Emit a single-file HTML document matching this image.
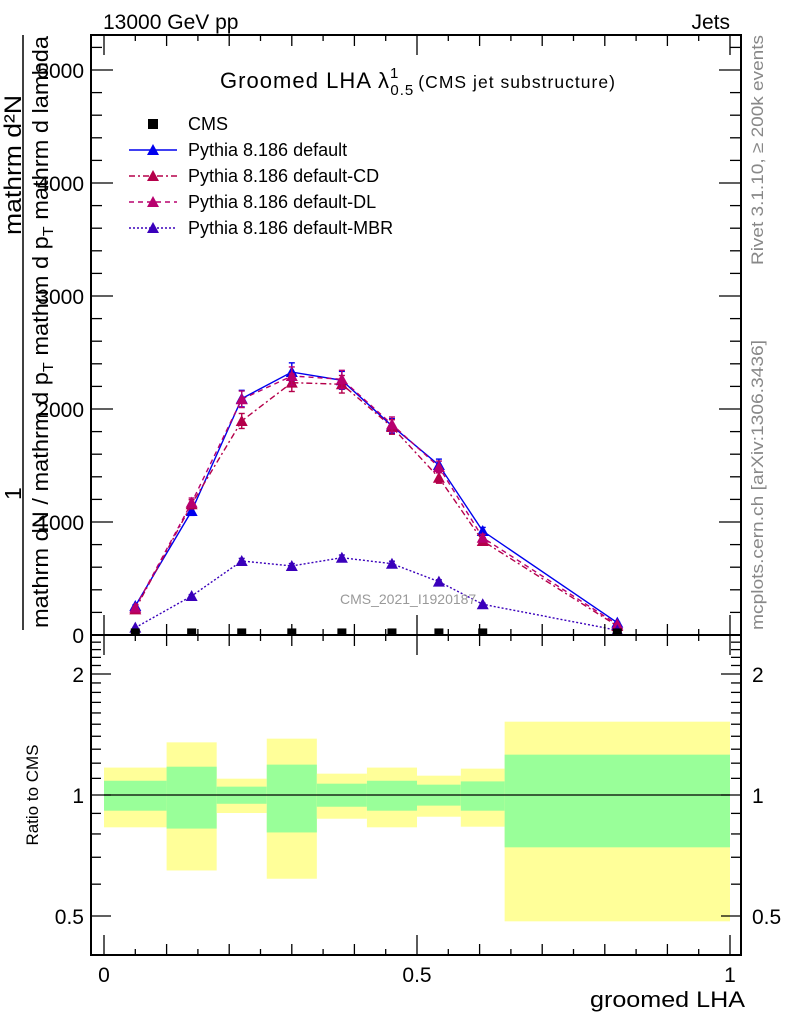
<!DOCTYPE html>
<html><head><meta charset="utf-8"><style>
body{margin:0;background:#fff;}
svg{display:block;font-family:"Liberation Sans",sans-serif;}
</style></head><body>
<svg id="chart" width="786" height="1024" viewBox="0 0 786 1024" xmlns="http://www.w3.org/2000/svg">
<g id="bands"></g>
<g id="marks"></g>
<g id="axes"></g>
<text x="103" y="29" font-size="21">13000 GeV pp</text>
<text x="730" y="29" font-size="21" text-anchor="end">Jets</text>
<text x="220" y="88" font-size="22" textLength="395" lengthAdjust="spacing">Groomed LHA λ<tspan font-size="15" dy="-10">1</tspan><tspan font-size="15" dx="-9" dy="17">0.5</tspan><tspan font-size="17.5" dx="4" dy="-7">(CMS jet substructure)</tspan></text>
<text x="340" y="604" font-size="14" fill="#999">CMS_2021_I1920187</text>
<text transform="translate(763,265) rotate(-90)" font-size="17" fill="#888" textLength="230" lengthAdjust="spacingAndGlyphs">Rivet 3.1.10, ≥ 200k events</text>
<text transform="translate(763,630) rotate(-90)" font-size="17" fill="#888" textLength="290" lengthAdjust="spacingAndGlyphs">mcplots.cern.ch [arXiv:1306.3436]</text>
<line x1="23" y1="35" x2="23" y2="630" stroke="#000" stroke-width="1.5"/>
<text transform="translate(21,235) rotate(-90)" font-size="24" textLength="140" lengthAdjust="spacingAndGlyphs">mathrm d²N</text>
<text transform="translate(21,500) rotate(-90)" font-size="23">1</text>
<text transform="translate(48,628) rotate(-90)" font-size="22" textLength="592" lengthAdjust="spacingAndGlyphs">mathrm dN / mathrm d p<tspan font-size="15" dy="5">T</tspan><tspan dy="-5"> mathrm d p</tspan><tspan font-size="15" dy="5">T</tspan><tspan dy="-5"> mathrm d lambda</tspan></text>
<text transform="translate(38,795) rotate(-90)" font-size="17" text-anchor="middle">Ratio to CMS</text>
<text x="745" y="1007" font-size="22" text-anchor="end" textLength="155" lengthAdjust="spacingAndGlyphs">groomed LHA</text>
<g id="legend"></g>
</svg>
<script>
const xCenters=[0.05,0.14,0.22,0.30,0.38,0.46,0.535,0.605,0.82];
const binEdges=[0,0.1,0.18,0.26,0.34,0.42,0.5,0.57,0.64,1.0];
const cmsVals=[5,5,5,5,5,5,5,5,5];
const defVals=[257,1097,2092,2327,2254,1850,1504,920,109];
const cdVals=[227,1157,1894,2233,2219,1841,1392,832,80];
const dlVals=[242,1171,2086,2292,2263,1864,1487,861,94];
const mbrVals=[65,345,655,611,684,631,472,272,42];
const yellowHi=[1.17,1.352,1.098,1.381,1.13,1.17,1.117,1.163,1.522];
const yellowLo=[0.831,0.649,0.902,0.619,0.873,0.831,0.883,0.834,0.485];
const greenHi=[1.085,1.176,1.049,1.19,1.067,1.085,1.061,1.081,1.26];
const greenLo=[0.914,0.825,0.951,0.807,0.935,0.914,0.941,0.914,0.741];
const mainTicks=[0,1000,2000,3000,4000,5000];
const ratioTicks=[0.5,1,2];
const xTicks=[0,0.5,1];

const NS="http://www.w3.org/2000/svg";
const L=91,R=741,T=35,MB=635,RB=955;
const xs=v=>104+626*v;
const ys=v=>635-0.113*v;
const yr=r=>795-121*Math.log2(r);
function mk(tag,attrs,parent){const e=document.createElementNS(NS,tag);for(const k in attrs)e.setAttribute(k,attrs[k]);parent.appendChild(e);return e;}
const bands=document.getElementById('bands'),marks=document.getElementById('marks'),axes=document.getElementById('axes'),legend=document.getElementById('legend');

for(let i=0;i<binEdges.length-1;i++){
  const x0=xs(binEdges[i]),x1=xs(binEdges[i+1]);
  const y=mk('rect',{x:x0,y:yr(yellowHi[i]),width:x1-x0,height:yr(yellowLo[i])-yr(yellowHi[i]),fill:'#ffff99'},bands);
  
  
  const g=mk('rect',{x:x0,y:yr(greenHi[i]),width:x1-x0,height:yr(greenLo[i])-yr(greenHi[i]),fill:'#99ff99'},bands);
  
  
}
const one=mk('line',{x1:xs(0),x2:xs(1),y1:yr(1),y2:yr(1),stroke:'#000','stroke-width':1.2},bands);



const series=[
 {vals:defVals,color:'#0000ee',dash:'',name:'default'},
 {vals:cdVals,color:'#b5004a',dash:'6,3,2,3',name:'default-cd'},
 {vals:dlVals,color:'#b8006e',dash:'5,4',name:'default-dl'},
 {vals:mbrVals,color:'#3a00bb',dash:'2,2',name:'default-mbr'}];
function tri(cx,cy,color,parent){return mk('path',{d:`M${cx-6},${cy+5}L${cx+6},${cy+5}L${cx},${cy-6}Z`,fill:color},parent);}
series.forEach(s=>{
  const pts=s.vals.map((v,i)=>xs(xCenters[i])+','+ys(v)).join(' ');
  const pl=mk('polyline',{points:pts,fill:'none',stroke:s.color,'stroke-width':1.4,'stroke-dasharray':s.dash},marks);
  
  
  s.vals.forEach((v,i)=>{
    const cx=xs(xCenters[i]),cy=ys(v),e=v*0.035;
    mk('line',{x1:cx,x2:cx,y1:ys(v+e),y2:ys(v-e),stroke:s.color,'stroke-width':1.4},marks);
    mk('line',{x1:cx-3,x2:cx+3,y1:ys(v+e),y2:ys(v+e),stroke:s.color,'stroke-width':1.4},marks);
    mk('line',{x1:cx-3,x2:cx+3,y1:ys(v-e),y2:ys(v-e),stroke:s.color,'stroke-width':1.4},marks);
    const t=tri(cx,cy,s.color,marks);
    
    
  });
});
cmsVals.forEach((v,i)=>{
  const r=mk('rect',{x:xs(xCenters[i])-4.5,y:ys(v)-6,width:9,height:7,fill:'#000'},marks);
  
  
});

[[T,MB],[MB,RB]].forEach(([a,b])=>{
  const f=mk('rect',{x:L,y:a,width:R-L,height:b-a,fill:'none',stroke:'#000','stroke-width':2},axes);
  
  
});
for(let k=0;k<=20;k++){
  const v=k*0.05,x=xs(v);
  const len=(k%10==0)?20:(k%2==0?11:6);
  [[MB,-1],[T,1],[RB,-1],[MB,1]].forEach(([y0,d])=>mk('line',{x1:x,x2:x,y1:y0,y2:y0+d*len,stroke:'#000','stroke-width':1.3},axes));
}
xTicks.forEach(v=>{
  const t=mk('text',{x:xs(v),y:982,'font-size':21,'text-anchor':'middle'},axes);
  t.textContent=String(v);
  
  
});
for(let v=0;v<=5200;v+=200){
  const y=ys(v),len=(v%1000==0)?22:11;
  mk('line',{x1:L,x2:L+len,y1:y,y2:y,stroke:'#000','stroke-width':1.3},axes);
  mk('line',{x1:R,x2:R-len,y1:y,y2:y,stroke:'#000','stroke-width':1.3},axes);
}
mainTicks.forEach(v=>{
  const t=mk('text',{x:84,y:ys(v)+8,'font-size':21,'text-anchor':'end'},axes);
  t.textContent=String(v);
  
  
});
for(let r=0.4;r<=2.51;r+=0.1){
  const rr=Math.round(r*10)/10,y=yr(rr);
  if(y<MB||y>RB)continue;
  const major=(rr==0.5||rr==1||rr==2);
  const len=major?20:10;
  mk('line',{x1:L,x2:L+len,y1:y,y2:y,stroke:'#000','stroke-width':1.3},axes);
  mk('line',{x1:R,x2:R-len,y1:y,y2:y,stroke:'#000','stroke-width':1.3},axes);
}
ratioTicks.forEach(v=>{
  [[84,'end'],[752,'start']].forEach(([x,a])=>{
    const t=mk('text',{x:x,y:yr(v)+8,'font-size':21,'text-anchor':a},axes);
    t.textContent=String(v);
    
    
  });
});
const legRows=[{label:'CMS',c:'#000',d:null},{label:'Pythia 8.186 default',c:'#0000ee',d:''},{label:'Pythia 8.186 default-CD',c:'#b5004a',d:'6,3,2,3'},{label:'Pythia 8.186 default-DL',c:'#b8006e',d:'5,4'},{label:'Pythia 8.186 default-MBR',c:'#3a00bb',d:'2,2'}];
legRows.forEach((r,i)=>{
  const y=124+26*i;
  const g=mk('g',{},legend);
  
  
  if(r.d===null){mk('rect',{x:148,y:y-5,width:10,height:10,fill:'#000'},g);}
  else{mk('line',{x1:129,x2:177,y1:y,y2:y,stroke:r.c,'stroke-width':1.4,'stroke-dasharray':r.d},g);tri(153,y,r.c,g);}
  const t=mk('text',{x:188,y:y+6,'font-size':18},g);
  t.textContent=r.label;
});
</script>
</body></html>
